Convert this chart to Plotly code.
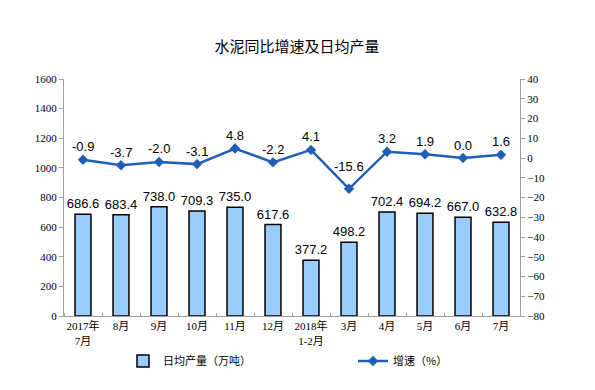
import plotly.graph_objects as go

categories = ["2017年<br>7月", "8月", "9月", "10月", "11月", "12月", "2018年<br>1-2月",
              "3月", "4月", "5月", "6月", "7月"]
daily_output = [686.6, 683.4, 738.0, 709.3, 735.0, 617.6, 377.2, 498.2, 702.4, 694.2, 667.0, 632.8]
growth = [-0.9, -3.7, -2.0, -3.1, 4.8, -2.2, 4.1, -15.6, 3.2, 1.9, 0.0, 1.6]

xpos = list(range(len(categories)))
label_font = dict(family="Liberation Sans, Arial", size=13, color="#000000")
tick_font = dict(family="Liberation Serif, Noto Sans CJK SC", size=11, color="#000000")

W, H = 579, 374
L, T = 56, 71
PW, PH = 456, 237

fig = go.Figure()
fig.add_trace(go.Bar(
    x=xpos, y=daily_output, name="日均产量（万吨）",
    marker=dict(color="#99CCFF", line=dict(color="#000000", width=1.5)),
    text=[f"{v:.1f}" for v in daily_output], textposition="outside",
    textfont=label_font, cliponaxis=False, width=0.42, constraintext="none",
))
fig.add_trace(go.Scatter(
    x=xpos, y=growth, name="增速（%）", yaxis="y2",
    mode="lines+markers",
    line=dict(color="#1F5FB8", width=2.5),
    marker=dict(symbol="diamond", size=8, color="#1F5FB8"),
    cliponaxis=False,
))

for i, v in enumerate(growth):
    fig.add_annotation(x=xpos[i], y=v, xref="x", yref="y2", text=f"{v:.1f}",
                       showarrow=False, font=label_font, yanchor="middle",
                       yshift=22 if v < -10 else 13)

fig.update_layout(
    width=W, height=H,
    margin=dict(l=L, r=W - L - PW, t=T, b=H - T - PH, autoexpand=False),
    paper_bgcolor="white", plot_bgcolor="white",
    title=dict(text="水泥同比增速及日均产量", x=(297 - 8) / W, xanchor="center", y=1 - 39 / H,
               yref="container", yanchor="middle",
               font=dict(family="Noto Sans CJK SC", size=15, color="#000000")),
    showlegend=True,
    legend=dict(orientation="h", x=59 / PW, xanchor="left", y=-45 / PH, yanchor="middle",
                font=dict(family="Noto Sans CJK SC", size=11, color="#000000"),
                entrywidth=185, itemwidth=30, bgcolor="rgba(0,0,0,0)"),
    xaxis=dict(range=[-0.5, 11.5], tickvals=xpos, ticktext=categories, tickfont=tick_font,
               showline=True, linecolor="#A0A0A0", linewidth=1, ticks="", showgrid=False,
               zeroline=False,
               minor=dict(tickvals=[i + 0.5 for i in range(-1, 12)], ticks="inside", ticklen=3,
                          tickcolor="#A0A0A0", showgrid=False)),
    yaxis=dict(range=[0, 1600], dtick=200, tickfont=tick_font, showline=True,
               linecolor="#A0A0A0", linewidth=1, ticks="outside", ticklen=4,
               tickcolor="#A0A0A0", showgrid=False, zeroline=False),
    yaxis2=dict(range=[-80, 40], dtick=10, overlaying="y", side="right", tickfont=tick_font,
                showline=True, linecolor="#A0A0A0", linewidth=1, ticks="outside", ticklen=4,
                tickcolor="#A0A0A0", showgrid=False, zeroline=False),
)

fig.write_html("out.html")
